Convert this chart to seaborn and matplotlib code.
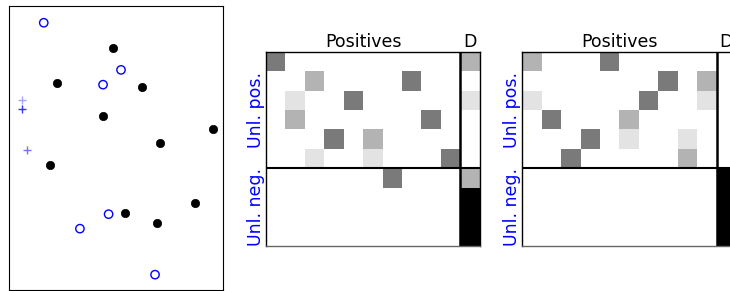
import matplotlib
matplotlib.use("Agg")
import matplotlib.pyplot as plt
import seaborn as sns
import numpy as np
import pandas as pd

sns.set_style("white")
plt.rcParams['font.family'] = ['DejaVu Sans']
plt.rcParams['text.color'] = 'black'

# ---- scatter data (normalised 0..1 coordinates) ----
pos_x = [0.161, 0.522, 0.438, 0.464, 0.330, 0.681]
pos_y = [0.941, 0.775, 0.723, 0.267, 0.216, 0.054]
neg_x = [0.485, 0.224, 0.620, 0.436, 0.950, 0.703, 0.189, 0.869, 0.541, 0.689]
neg_y = [0.852, 0.728, 0.716, 0.614, 0.566, 0.517, 0.439, 0.306, 0.272, 0.236]
plus_x = [0.061, 0.061, 0.084]
plus_y = [0.668, 0.636, 0.492]
plus_alpha = [0.35, 0.8, 0.55]

# ---- matrices: 10 rows (6 unl. pos + 4 unl. neg), 10 positives + D column ----
matrix_1 = [
    [0.52, 0, 0, 0, 0, 0, 0, 0, 0, 0, 0.30],
    [0, 0, 0.30, 0, 0, 0, 0, 0.52, 0, 0, 0],
    [0, 0.11, 0, 0, 0.52, 0, 0, 0, 0, 0, 0.11],
    [0, 0.30, 0, 0, 0, 0, 0, 0, 0.52, 0, 0],
    [0, 0, 0, 0.52, 0, 0.30, 0, 0, 0, 0, 0],
    [0, 0, 0.11, 0, 0, 0.11, 0, 0, 0, 0.52, 0],
    [0, 0, 0, 0, 0, 0, 0.52, 0, 0, 0, 0.30],
    [0, 0, 0, 0, 0, 0, 0, 0, 0, 0, 1.0],
    [0, 0, 0, 0, 0, 0, 0, 0, 0, 0, 1.0],
    [0, 0, 0, 0, 0, 0, 0, 0, 0, 0, 1.0],
]
matrix_2 = [
    [0.30, 0, 0, 0, 0.52, 0, 0, 0, 0, 0, 0],
    [0, 0, 0, 0, 0, 0, 0, 0.52, 0, 0.30, 0],
    [0.11, 0, 0, 0, 0, 0, 0.52, 0, 0, 0.11, 0],
    [0, 0.52, 0, 0, 0, 0.30, 0, 0, 0, 0, 0],
    [0, 0, 0, 0.52, 0, 0.11, 0, 0, 0.11, 0, 0],
    [0, 0, 0.52, 0, 0, 0, 0, 0, 0.30, 0, 0],
    [0, 0, 0, 0, 0, 0, 0, 0, 0, 0, 1.0],
    [0, 0, 0, 0, 0, 0, 0, 0, 0, 0, 1.0],
    [0, 0, 0, 0, 0, 0, 0, 0, 0, 0, 1.0],
    [0, 0, 0, 0, 0, 0, 0, 0, 0, 0, 1.0],
]
col_title = "Positives"
d_title = "D"
row_labels = ["Unl. pos.", "Unl. neg."]

W, H = 730, 291
fig = plt.figure(figsize=(W / 100, H / 100), dpi=100)

def box(l, t, r, b):
    return [l / W, 1 - b / H, (r - l) / W, (b - t) / H]

# ---- scatter panel ----
ax0 = fig.add_axes(box(9.3, 6, 223.3, 290))
sns.scatterplot(x=neg_x, y=neg_y, ax=ax0, color="black", s=36, marker="o",
                edgecolor="black", linewidth=0.5)
sns.scatterplot(x=pos_x, y=pos_y, ax=ax0, s=36, marker="o",
                facecolor="none", edgecolor="blue", linewidth=1.0)
for px, py, a in zip(plus_x, plus_y, plus_alpha):
    sns.scatterplot(x=[px], y=[py], ax=ax0, color="blue", marker="+",
                    s=36, linewidth=1.0, alpha=a)
ax0.set_xlim(0, 1)
ax0.set_ylim(0, 1)
ax0.set_xticks([])
ax0.set_yticks([])
for s in ax0.spines.values():
    s.set_visible(True)
    s.set_color("black")
    s.set_linewidth(0.8)

# ---- matrix panels ----
cw = 19.43
def matrix_panel(left, mat):
    ax = fig.add_axes(box(left, 51.7, left + 11 * cw, 51.7 + 10 * cw))
    sns.heatmap(pd.DataFrame(mat), ax=ax, cmap="gray_r", vmin=0, vmax=1,
                cbar=False, xticklabels=False, yticklabels=False)
    ax.axhline(6, color="black", lw=1.5)
    ax.axvline(10, color="black", lw=1.8)
    for name, s in ax.spines.items():
        s.set_visible(True)
        s.set_linewidth(1.0)
        s.set_color("#666666" if name == "bottom" else "black")
    ax.text(5, -0.26, col_title, ha="center", va="baseline", fontsize=12.5,
            color="black")
    ax.text(10.5, -0.26, d_title, ha="center", va="baseline", fontsize=12.5,
            color="black")
    ax.text(-0.06, 3, row_labels[0], rotation=90, ha="right", va="center",
            color="blue", fontsize=12.5)
    ax.text(-0.06, 8, row_labels[1], rotation=90, ha="right", va="center",
            color="blue", fontsize=12.5)
    return ax

matrix_panel(266, matrix_1)
matrix_panel(522.3, matrix_2)

fig.savefig("out.png", dpi=100)
